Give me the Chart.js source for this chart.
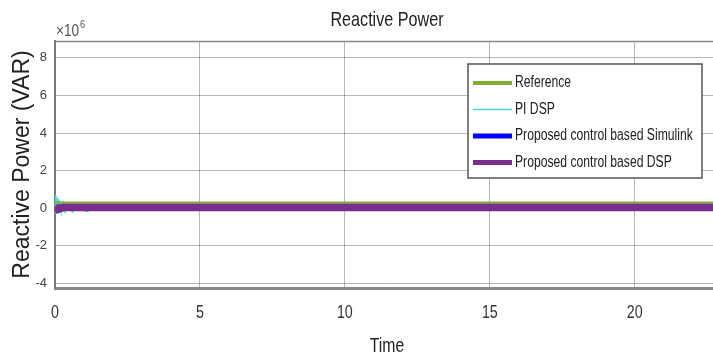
<!DOCTYPE html>
<html>
<head>
<meta charset="utf-8">
<title>Reactive Power</title>
<script src="https://cdn.jsdelivr.net/npm/chart.js@4.4.1/dist/chart.umd.min.js"></script>
<style>
  html, body { margin: 0; padding: 0; background: #fff; }
  #chart { display: block; }
</style>
</head>
<body>
<canvas id="chart" width="713" height="358"></canvas>
<script>
// all power values are in units of 1e6 VAR
const refTime = [0, 22.7];
const refValues = [0.3, 0.3];

const piTime = [0, 0.02, 0.05, 0.08, 0.11, 0.14, 0.18, 0.22, 0.28, 0.35, 0.45, 0.6, 0.8, 1.1, 1.4, 22.7];
const piValues = [0.7, -0.3, 0.6, -0.28, 0.5, -0.25, 0.4, -0.22, 0.3, -0.2, 0.2, -0.2, 0.12, -0.18, 0.05, 0.05];

const simTime = [0, 0.1, 0.3, 22.7];
const simValues = [0.1, 0.0, 0.05, 0.05];

const dspTime = [0, 0.1, 0.3, 22.7];
const dspValues = [0.1, -0.05, 0.05, 0.05];

const xTicks = [0, 5, 10, 15, 20];
const yTicks = [-4, -2, 0, 2, 4, 6, 8];

const sans = "'Liberation Sans', Arial, sans-serif";

// the source figure uses squeezed Helvetica, so text is drawn narrowed
function narrowText(ctx, text, x, y, sx, align) {
    ctx.save();
    ctx.translate(x, y);
    ctx.scale(sx, 1);
    ctx.textAlign = align;
    ctx.fillText(text, 0, 0);
    ctx.restore();
}

const matlabDecor = {
    id: 'matlabDecor',
    afterDraw(chart) {
        const ctx = chart.ctx;
        const area = chart.chartArea;
        const xScale = chart.scales.x;
        ctx.save();

        // top box line
        ctx.strokeStyle = '#888';
        ctx.lineWidth = 1.5;
        ctx.beginPath();
        ctx.moveTo(area.left, area.top + 0.5);
        ctx.lineTo(area.right, area.top + 0.5);
        ctx.stroke();

        // title
        ctx.fillStyle = '#222';
        ctx.textBaseline = 'middle';
        ctx.font = '21px ' + sans;
        narrowText(ctx, 'Reactive Power', 387, 20, 0.77, 'center');

        // x tick labels and axis title
        ctx.fillStyle = '#333';
        ctx.font = '19px ' + sans;
        xTicks.forEach(v => {
            narrowText(ctx, String(v), xScale.getPixelForValue(v), 313, 0.75, 'center');
        });
        ctx.fillStyle = '#222';
        ctx.font = '21px ' + sans;
        narrowText(ctx, 'Time', 387, 346, 0.75, 'center');

        // exponent
        ctx.fillStyle = '#555';
        ctx.textBaseline = 'alphabetic';
        ctx.font = '16px ' + sans;
        narrowText(ctx, '\u00d710', 56, 36, 0.85, 'left');
        ctx.font = '11px ' + sans;
        narrowText(ctx, '6', 80, 28, 0.85, 'left');

        // legend
        const box = { x: 468, y: 64, w: 234, h: 114 };
        ctx.fillStyle = '#fff';
        ctx.fillRect(box.x, box.y, box.w, box.h);
        ctx.strokeStyle = '#555';
        ctx.lineWidth = 1.5;
        ctx.strokeRect(box.x, box.y, box.w, box.h);
        ctx.font = '16px ' + sans;
        ctx.textBaseline = 'middle';
        chart.data.datasets.forEach((ds, i) => {
            const y = box.y + 19 + i * 26.5;
            ctx.strokeStyle = ds.borderColor;
            ctx.lineWidth = ds.legendWidth;
            ctx.beginPath();
            ctx.moveTo(box.x + 5, y);
            ctx.lineTo(box.x + 44, y);
            ctx.stroke();
            ctx.fillStyle = '#222';
            narrowText(ctx, ds.label, box.x + 47, y, 0.76, 'left');
        });
        ctx.restore();
    }
};

const chart = new Chart(document.getElementById('chart'), {
    type: 'line',
    data: {
        datasets: [
            {
                label: 'Reference',
                data: refTime.map((t, i) => ({ x: t, y: refValues[i] })),
                borderColor: '#7fae35',
                borderWidth: 2,
                legendWidth: 4,
                order: 0
            },
            {
                label: 'PI DSP',
                data: piTime.map((t, i) => ({ x: t, y: piValues[i] })),
                borderColor: '#3fdcdc',
                borderWidth: 1.5,
                legendWidth: 1.5,
                order: 2
            },
            {
                label: 'Proposed control based Simulink',
                data: simTime.map((t, i) => ({ x: t, y: simValues[i] })),
                borderColor: '#0000ff',
                borderWidth: 6,
                legendWidth: 5,
                order: 3
            },
            {
                label: 'Proposed control based DSP',
                data: dspTime.map((t, i) => ({ x: t, y: dspValues[i] })),
                borderColor: '#7b2d8e',
                borderWidth: 8,
                legendWidth: 5,
                order: 1
            }
        ]
    },
    options: {
        responsive: false,
        animation: false,
        devicePixelRatio: 1,
        layout: { padding: { top: 41, right: 0, left: 0, bottom: 0 } },
        elements: {
            point: { radius: 0 },
            line: { tension: 0, borderCapStyle: 'butt' }
        },
        plugins: {
            legend: { display: false },
            title: { display: false },
            tooltip: { enabled: false }
        },
        scales: {
            x: {
                type: 'linear',
                min: 0,
                max: 22.7,
                afterBuildTicks: scale => { scale.ticks = xTicks.map(v => ({ value: v })); },
                afterFit: scale => { scale.height = 70; },
                ticks: { display: false },
                grid: { color: 'rgba(0,0,0,0.28)', drawTicks: false },
                border: { color: '#888', width: 3 }
            },
            y: {
                min: -4.25,
                max: 8.9,
                afterBuildTicks: scale => { scale.ticks = yTicks.map(v => ({ value: v })); },
                afterFit: scale => { scale.width = 55; },
                ticks: {
                    padding: 8,
                    color: '#444',
                    font: { family: sans, size: 13 }
                },
                grid: { color: 'rgba(0,0,0,0.28)', drawTicks: false },
                border: { color: '#777', width: 2 },
                title: {
                    display: true,
                    text: 'Reactive Power (VAR)',
                    color: '#222',
                    font: { family: sans, size: 23 },
                    padding: { top: 9, bottom: 0 }
                }
            }
        }
    },
    plugins: [matlabDecor]
});
</script>
</body>
</html>
